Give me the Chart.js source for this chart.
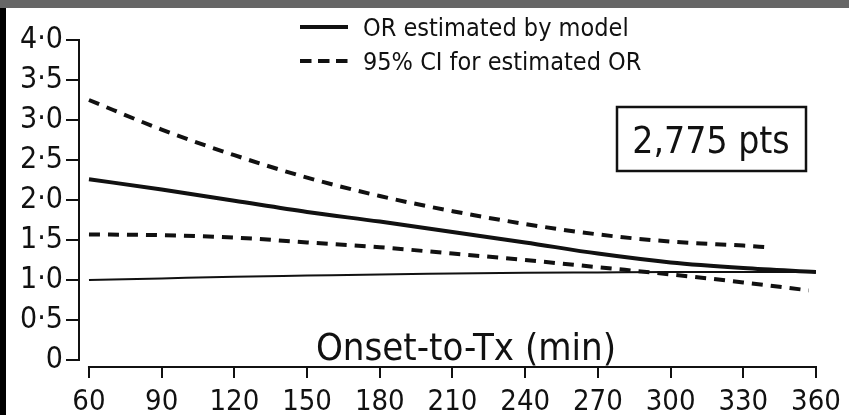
<!DOCTYPE html>
<html>
<head>
<meta charset="utf-8">
<script src="https://cdn.jsdelivr.net/npm/chart.js@4/dist/chart.umd.min.js"></script>
<style>
  html, body { margin: 0; padding: 0; background: #fff; overflow: hidden; }
  #wrap { width: 849px; height: 415px; position: relative; }
</style>
</head>
<body>
<div id="wrap"><canvas id="c" width="849" height="415"></canvas></div>
<script>
// Onset-to-treatment time (min) and odds ratios
const minutes      = [60, 90, 120, 150, 180, 210, 240, 270, 300, 330, 360];
const orEstimate   = [2.26, 2.13, 1.99, 1.85, 1.73, 1.60, 1.47, 1.33, 1.22, 1.15, 1.10];
const refLine      = [1.00, 1.02, 1.04, 1.055, 1.07, 1.08, 1.09, 1.095, 1.10, 1.10, 1.10];

const upperMinutes = [60, 90, 120, 150, 180, 210, 240, 270, 300, 330, 340];
const upperCI      = [3.25, 2.88, 2.56, 2.28, 2.05, 1.86, 1.70, 1.57, 1.48, 1.43, 1.41];

const lowerMinutes = [60, 90, 120, 150, 180, 210, 240, 270, 300, 330, 357];
const lowerCI      = [1.57, 1.56, 1.53, 1.47, 1.41, 1.33, 1.25, 1.16, 1.07, 0.97, 0.87];

const xTicks = [60, 90, 120, 150, 180, 210, 240, 270, 300, 330, 360];
const yTicks = [0, 0.5, 1, 1.5, 2, 2.5, 3, 3.5, 4];

const legendLabels = ['OR estimated by model', '95% CI for estimated OR'];
const countLabel = '2,775 pts';
const xTitle = 'Onset-to-Tx (min)';

const FONT = "'DejaVu Sans Condensed', 'Liberation Sans', sans-serif";
const INK = '#111';
const X_MIN = 56.3;   // axes are drawn detached from the plotted range
const Y_MIN = -0.075;

const pts = (xs, ys) => xs.map((x, i) => ({ x, y: ys[i] }));
const fmtY = v => v === 0 ? '0' : v.toFixed(1).replace('.', '\u00B7');

const common = { pointRadius: 0, borderColor: INK, fill: false, cubicInterpolationMode: 'monotone' };

// page frame: grey strip on top, black strip on the left
const framePlugin = {
  id: 'frame',
  beforeDraw(chart) {
    const { ctx, width, height } = chart;
    ctx.save();
    ctx.fillStyle = '#fff';
    ctx.fillRect(0, 0, width, height);
    ctx.fillStyle = '#666';
    ctx.fillRect(0, 0, width, 8);
    ctx.fillStyle = '#000';
    ctx.fillRect(0, 8, 6, height - 8);
    ctx.restore();
  }
};

// axis spines spanning only the labelled tick range
const spinePlugin = {
  id: 'spines',
  afterDraw(chart) {
    const { ctx, chartArea, scales } = chart;
    ctx.save();
    ctx.strokeStyle = INK;
    ctx.lineWidth = 2;
    ctx.beginPath();
    const yx = chartArea.left - 1;
    ctx.moveTo(yx, scales.y.getPixelForValue(yTicks[yTicks.length - 1]));
    ctx.lineTo(yx, scales.y.getPixelForValue(yTicks[0]) + 1);
    const xy = chartArea.bottom + 1;
    ctx.moveTo(scales.x.getPixelForValue(xTicks[0]) - 1, xy);
    ctx.lineTo(scales.x.getPixelForValue(xTicks[xTicks.length - 1]) + 1, xy);
    ctx.stroke();
    ctx.restore();
  }
};

// legend, patient-count box and the in-plot axis title
const notesPlugin = {
  id: 'notes',
  afterDraw(chart) {
    const { ctx } = chart;
    const ds = chart.data.datasets;
    ctx.save();
    ctx.fillStyle = INK;
    ctx.strokeStyle = INK;

    const rows = [{ y: 27, ds: ds[0], text: legendLabels[0], dash: [] },
                  { y: 61, ds: ds[1], text: legendLabels[1], dash: [11.5, 6.5] }];
    ctx.font = '25px ' + FONT;
    ctx.textBaseline = 'alphabetic';
    ctx.textAlign = 'left';
    rows.forEach(r => {
      ctx.lineWidth = r.ds.borderWidth;
      ctx.setLineDash(r.dash);
      ctx.beginPath();
      ctx.moveTo(300, r.y);
      ctx.lineTo(348, r.y);
      ctx.stroke();
      ctx.setLineDash([]);
      ctx.fillText(r.text, 363, r.y + 9);
    });

    ctx.lineWidth = 2.5;
    ctx.strokeRect(617, 107, 189, 64);
    ctx.font = '37px ' + FONT;
    ctx.textAlign = 'center';
    ctx.fillText(countLabel, 711, 153);

    ctx.font = '38px ' + FONT;
    ctx.fillText(xTitle, 466, 360);
    ctx.restore();
  }
};

new Chart(document.getElementById('c'), {
  type: 'line',
  data: {
    datasets: [
      { ...common, label: legendLabels[0], data: pts(minutes, orEstimate), borderWidth: 4 },
      { ...common, label: legendLabels[1], data: pts(upperMinutes, upperCI), borderWidth: 4, borderDash: [11, 8] },
      { ...common, label: legendLabels[1], data: pts(lowerMinutes, lowerCI), borderWidth: 4, borderDash: [11, 8] },
      { ...common, label: 'OR = 1', data: pts(minutes, refLine), borderWidth: 2 }
    ]
  },
  options: {
    responsive: false,
    devicePixelRatio: 1,
    animation: false,
    layout: { padding: { top: 40, right: 33, bottom: 0, left: 0 } },
    plugins: { legend: { display: false }, tooltip: { enabled: false } },
    scales: {
      x: {
        type: 'linear', min: X_MIN, max: 360,
        afterBuildTicks: s => { s.ticks = xTicks.map(v => ({ value: v })); },
        afterFit: s => { s.height = 49; },
        border: { display: false },
        grid: { display: true, drawOnChartArea: false, drawTicks: true, tickLength: 12, color: INK, lineWidth: 2 },
        ticks: { autoSkip: false, maxRotation: 0, padding: 7, color: INK, font: { family: FONT, size: 29 } }
      },
      y: {
        type: 'linear', min: Y_MIN, max: 4,
        afterBuildTicks: s => { s.ticks = yTicks.map(v => ({ value: v })); },
        afterFit: s => { s.width = 80; },
        border: { display: false },
        grid: { display: true, drawOnChartArea: false, drawTicks: true, tickLength: 14, color: INK, lineWidth: 2 },
        ticks: { padding: 3, color: INK, font: { family: FONT, size: 30 }, callback: v => fmtY(v) }
      }
    }
  },
  plugins: [framePlugin, spinePlugin, notesPlugin]
});
</script>
</body>
</html>
